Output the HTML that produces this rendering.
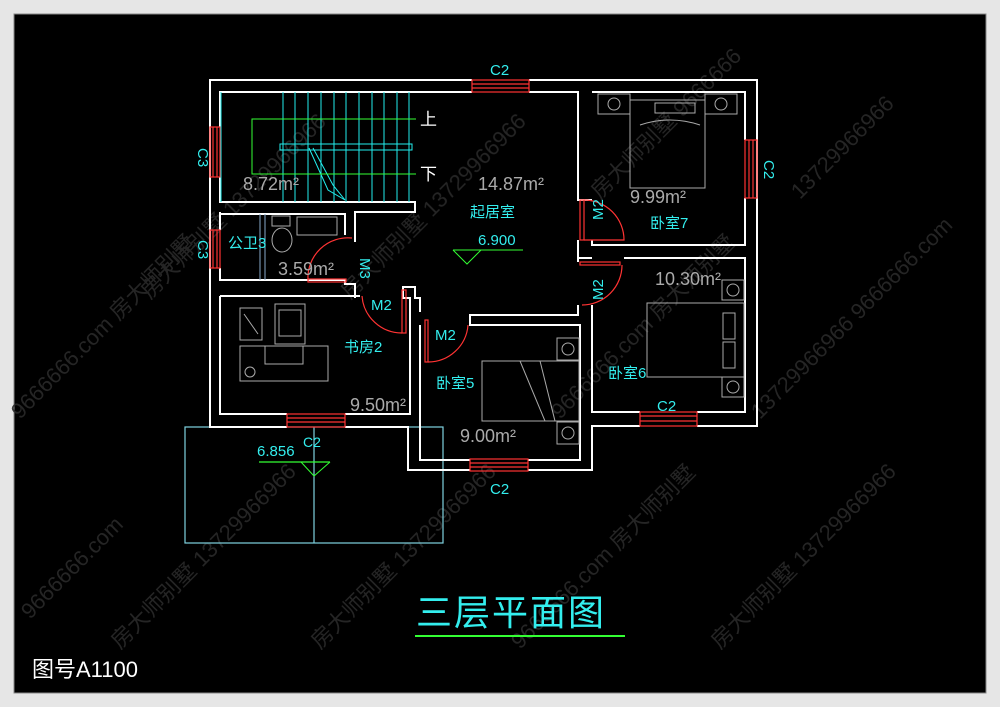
<!DOCTYPE html>
<html><head><meta charset="utf-8"><style>
html,body{margin:0;padding:0;background:#fff;}
svg{display:block;}
text{font-family:"Liberation Sans","Noto Sans CJK SC",sans-serif;}
</style></head><body>
<svg width="1000" height="707" viewBox="0 0 1000 707" xmlns="http://www.w3.org/2000/svg">
<rect x="0" y="0" width="1000" height="707" fill="#e6e6e6"/>
<rect x="14" y="14" width="972" height="679" fill="#000" stroke="#888" stroke-width="1"/>
<!-- watermarks -->
<g fill="#2a2a2a" font-size="22" opacity="0.9">
<text transform="translate(30,620) rotate(-45)">9666666.com</text>
<text transform="translate(20,420) rotate(-45)">9666666.com 房大师别墅</text>
<text transform="translate(120,650) rotate(-45)">房大师别墅 13729966966</text>
<text transform="translate(320,650) rotate(-45)">房大师别墅 13729966966</text>
<text transform="translate(520,650) rotate(-45)">9666666.com 房大师别墅</text>
<text transform="translate(720,650) rotate(-45)">房大师别墅 13729966966</text>
<text transform="translate(560,420) rotate(-45)">9666666.com 房大师别墅</text>
<text transform="translate(760,420) rotate(-45)">13729966966 9666666.com</text>
<text transform="translate(150,300) rotate(-45)">房大师别墅 13729966966</text>
<text transform="translate(350,300) rotate(-45)">房大师别墅 13729966966</text>
<text transform="translate(600,200) rotate(-45)">房大师别墅 9666666</text>
<text transform="translate(800,200) rotate(-45)">13729966966</text>
</g>
<!-- balcony -->
<g stroke="#7fd3e0" stroke-width="1.2" fill="none">
<rect x="185" y="427" width="258" height="116"/>
<line x1="314" y1="427" x2="314" y2="543"/>
</g>
<polyline points="259,462 330,462" stroke="#3f3" stroke-width="1.2" fill="none"/>
<polyline points="301,462 314,476 330,462" stroke="#3f3" stroke-width="1" fill="none"/>
<!-- walls -->
<g stroke="#fff" stroke-width="2" fill="none">
<polyline points="472,80 210,80 210,427 287,427"/>
<polyline points="345,427 408,427 408,470 470,470"/>
<polyline points="528,470 592,470 592,426 640,426"/>
<polyline points="697,426 757,426 757,80 529,80"/>
<polyline points="472,92 220,92 220,127"/>
<polyline points="220,177 220,202 415,202 415,212 355,212 355,242"/>
<polyline points="220,212 220,230"/>
<polyline points="220,268 220,280 345,280 345,284 355,284 355,298"/>
<polyline points="220,214 345,214 345,235"/>
<polyline points="529,92 578,92 578,200 592,200"/>
<polyline points="578,240 578,258 592,258"/>
<polyline points="592,92 745,92 745,140"/>
<polyline points="745,198 745,245 592,245 592,240"/>
<polyline points="592,305 592,412 640,412"/>
<polyline points="697,412 745,412 745,258 624,258"/>
<polyline points="220,296 360,296"/>
<polyline points="220,296 220,414 287,414"/>
<polyline points="345,414 410,414 410,298 403,298 403,287 415,287 415,298 420,298 420,312"/>
<polyline points="420,325 420,460 470,460"/>
<polyline points="528,460 580,460 580,325 470,325 470,315 578,315 578,305"/>
<polyline points="578,262 578,258"/>
</g>
<!-- windows red -->
<g stroke="#f33" stroke-width="1.2" fill="none">
<rect x="472" y="80" width="57" height="12"/><line x1="472" y1="84" x2="529" y2="84"/><line x1="472" y1="88" x2="529" y2="88"/>
<rect x="210" y="127" width="10" height="50"/><line x1="213" y1="127" x2="213" y2="177"/><line x1="217" y1="127" x2="217" y2="177"/>
<rect x="210" y="230" width="10" height="38"/><line x1="213" y1="230" x2="213" y2="268"/><line x1="217" y1="230" x2="217" y2="268"/>
<rect x="745" y="140" width="12" height="58"/><line x1="749" y1="140" x2="749" y2="198"/><line x1="753" y1="140" x2="753" y2="198"/>
<rect x="640" y="412" width="57" height="14"/><line x1="640" y1="416" x2="697" y2="416"/><line x1="640" y1="421" x2="697" y2="421"/>
<rect x="287" y="414" width="58" height="13"/><line x1="287" y1="418" x2="345" y2="418"/><line x1="287" y1="422" x2="345" y2="422"/>
<rect x="470" y="459" width="58" height="12"/><line x1="470" y1="463" x2="528" y2="463"/><line x1="470" y1="467" x2="528" y2="467"/>
<!-- doors -->
<rect x="580" y="200" width="4" height="40"/><path d="M584,200 A40,40 0 0 1 624,240 L584,240"/>
<rect x="580" y="262" width="40" height="3"/><path d="M582,305 A40,40 0 0 0 622,265"/>
<rect x="308" y="279" width="38" height="3"/><path d="M308,280 A40,40 0 0 1 352,238"/>
<rect x="402" y="290" width="4" height="43"/><path d="M362,296 A40,40 0 0 0 402,333"/>
<rect x="425" y="320" width="3" height="42"/><path d="M428,362 A40,40 0 0 0 468,325"/>
</g>
<!-- stairs -->
<g stroke="#2ee" stroke-width="1">
<line x1="283" y1="92" x2="283" y2="202"/><line x1="295" y1="92" x2="295" y2="202"/><line x1="308" y1="92" x2="308" y2="202"/><line x1="321" y1="92" x2="321" y2="202"/><line x1="334" y1="92" x2="334" y2="202"/><line x1="346" y1="92" x2="346" y2="202"/><line x1="359" y1="92" x2="359" y2="202"/><line x1="372" y1="92" x2="372" y2="202"/><line x1="384" y1="92" x2="384" y2="202"/><line x1="397" y1="92" x2="397" y2="202"/><line x1="409" y1="92" x2="409" y2="202"/>
<line x1="221" y1="92" x2="221" y2="202"/>
<rect x="280" y="144" width="132" height="6" fill="none"/>
<polyline points="309,148 328,190 345,200" fill="none"/><polyline points="313,148 333,185 345,200" fill="none"/>
</g>
<g stroke="#3f3" stroke-width="1" fill="none"><polyline points="416,119 252,119 252,174 416,174"/></g>
<g fill="#fff" font-size="17"><text x="420" y="125">上</text><text x="420" y="180">下</text></g>
<!-- furniture gray -->
<g stroke="#aaa" stroke-width="1" fill="none">
<rect x="598" y="94" width="32" height="20"/><circle cx="614" cy="104" r="6"/>
<rect x="705" y="94" width="32" height="20"/><circle cx="721" cy="104" r="6"/>
<path d="M630,100 L705,100 L705,188 L630,188 Z"/><rect x="655" y="103" width="40" height="10"/>
<path d="M640,125 Q670,115 700,125"/>
<rect x="722" y="280" width="22" height="20"/><circle cx="733" cy="290" r="6"/>
<rect x="722" y="377" width="22" height="20"/><circle cx="733" cy="387" r="6"/>
<rect x="647" y="303" width="97" height="74"/><rect x="723" y="313" width="12" height="26"/><rect x="723" y="342" width="12" height="26"/>
<rect x="557" y="338" width="22" height="22"/><circle cx="568" cy="349" r="6"/>
<rect x="557" y="422" width="22" height="22"/><circle cx="568" cy="433" r="6"/>
<rect x="482" y="361" width="97" height="60"/><line x1="520" y1="361" x2="545" y2="421"/><line x1="540" y1="361" x2="555" y2="421"/>
<rect x="240" y="308" width="22" height="32"/><line x1="244" y1="314" x2="258" y2="334"/>
<rect x="275" y="304" width="30" height="40"/><rect x="279" y="310" width="22" height="26"/>
<rect x="240" y="346" width="88" height="35"/><rect x="265" y="346" width="38" height="18"/><circle cx="250" cy="372" r="5"/>
<rect x="297" y="217" width="40" height="18"/><ellipse cx="282" cy="240" rx="10" ry="12"/><rect x="272" y="216" width="18" height="10"/>
</g>
<line x1="260" y1="214" x2="260" y2="280" stroke="#8ac" stroke-width="1"/><line x1="265" y1="214" x2="265" y2="280" stroke="#8ac" stroke-width="1"/>
<!-- elevation mark -->
<g stroke="#3f3" stroke-width="1" fill="none"><line x1="453" y1="250" x2="523" y2="250"/><polyline points="453,250 467,264 481,250"/></g>
<!-- labels -->
<g fill="#3ee" font-size="15">
<text x="490" y="75">C2</text>
<text x="490" y="494">C2</text>
<text x="657" y="411">C2</text>
<text x="303" y="447" font-size="14">C2</text>
<text x="470" y="217">起居室</text>
<text x="478" y="245">6.900</text>
<text x="257" y="456">6.856</text>
<text x="650" y="228">卧室7</text>
<text x="608" y="378">卧室6</text>
<text x="436" y="388">卧室5</text>
<text x="344" y="352">书房2</text>
<text x="228" y="248">公卫3</text>
<text x="371" y="310">M2</text>
<text x="435" y="340">M2</text>
<text transform="translate(603,220) rotate(-90)">M2</text>
<text transform="translate(603,285) rotate(-90) translate(-15,0)">M2</text>
<text transform="translate(360,258) rotate(90)">M3</text>
<text transform="translate(198,148) rotate(90)">C3</text>
<text transform="translate(198,240) rotate(90)">C3</text>
<text transform="translate(764,160) rotate(90)">C2</text>
</g>
<g fill="#aaa" font-size="18">
<text x="243" y="190">8.72m²</text>
<text x="478" y="190">14.87m²</text>
<text x="630" y="203">9.99m²</text>
<text x="655" y="285">10.30m²</text>
<text x="278" y="275">3.59m²</text>
<text x="350" y="411">9.50m²</text>
<text x="460" y="442">9.00m²</text>
</g>
<text x="416" y="625" fill="#3ee" font-size="36" font-family="'Noto Sans CJK SC',sans-serif" letter-spacing="2">三层平面图</text>
<line x1="415" y1="636" x2="625" y2="636" stroke="#3f3" stroke-width="2"/>
<text x="32" y="677" fill="#fff" font-size="22">图号A1100</text>
</svg>
</body></html>
